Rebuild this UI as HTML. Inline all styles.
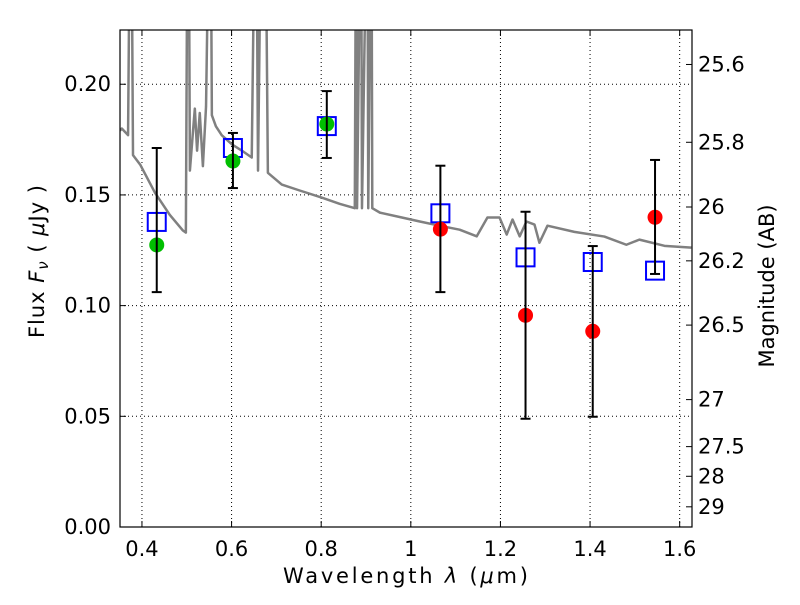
<!DOCTYPE html>
<html><head><meta charset="utf-8"><style>
body{margin:0;background:#fff}
svg text{font-family:"DejaVu Sans","Liberation Sans",sans-serif;fill:#000}
</style></head><body>
<svg id="chart" width="800" height="600" xmlns="http://www.w3.org/2000/svg"></svg>
<script>
const specWl=[0.351,0.355,0.369,0.374,0.376,0.380,0.396,0.429,0.462,0.491,0.498,0.502,0.504,0.507,0.514,0.518,0.523,0.529,0.536,0.543,0.551,0.553,0.556,0.565,0.578,0.601,0.623,0.645,0.653,0.655,0.659,0.667,0.669,0.673,0.675,0.681,0.712,0.752,0.801,0.841,0.875,0.878,0.880,0.889,0.891,0.903,0.905,0.912,0.914,0.931,0.980,1.020,1.064,1.109,1.147,1.171,1.198,1.214,1.227,1.243,1.258,1.276,1.287,1.305,1.365,1.432,1.481,1.510,1.566,1.626];
const specFlux=[0.179,0.180,0.177,0.3,0.3,0.168,0.1637,0.151,0.141,0.134,0.133,0.3,0.3,0.161,0.179,0.189,0.170,0.187,0.163,0.190,0.3,0.3,0.186,0.181,0.177,0.1728,0.170,0.1669,0.3,0.3,0.161,0.3,0.3,0.3,0.3,0.160,0.1547,0.152,0.1488,0.146,0.144,0.3,0.144,0.3,0.144,0.3,0.144,0.3,0.144,0.142,0.1398,0.138,0.1361,0.1343,0.1313,0.1398,0.1398,0.1321,0.1389,0.1313,0.138,0.1366,0.1284,0.1361,0.1333,0.1312,0.1275,0.1298,0.127,0.1262];
const bandWl=[0.433,0.603,0.8125,1.066,1.256,1.406,1.545];
const modelFlux=[0.1378,0.1712,0.1811,0.1417,0.1218,0.1197,0.1158];
const obsFlux=[0.1274,0.1653,0.182,0.1345,0.0956,0.0884,0.1399];
const obsColor=["#00bf00","#00bf00","#00bf00","#ff0000","#ff0000","#ff0000","#ff0000"];
const errLo=[0.1061,0.1531,0.1667,0.1061,0.0489,0.0498,0.1143];
const errHi=[0.1712,0.178,0.1969,0.1632,0.1424,0.1269,0.1658];
const xTicks=[0.4,0.6,0.8,1.0,1.2,1.4,1.6];
const xTickLabels=["0.4","0.6","0.8","1","1.2","1.4","1.6"];
const yTicks=[0,0.05,0.10,0.15,0.20];
const yTickLabels=["0.00","0.05","0.10","0.15","0.20"];
const magTicks=[25.6,25.8,26,26.2,26.5,27,27.5,28,29];
const magLabels=["25.6","25.8","26","26.2","26.5","27","27.5","28","29"];

const L=120,R=692,T=30,B=527;
const x0=0.351,x1=1.6275,y0=0,y1=0.2245;
const X=v=>L+(v-x0)/(x1-x0)*(R-L);
const Y=v=>B-(v-y0)/(y1-y0)*(B-T);
const svg=document.getElementById('chart');
const NS="http://www.w3.org/2000/svg";
function mk(tag,attrs,parent){const e=document.createElementNS(NS,tag);for(const k in attrs)e.setAttribute(k,attrs[k]);(parent||svg).appendChild(e);return e;}
const defs=mk('defs',{});const cp=mk('clipPath',{id:'clip'},defs);mk('rect',{x:L,y:T,width:R-L,height:B-T},cp);

const grid=mk('g',{});


xTicks.forEach(t=>mk('line',{x1:X(t),x2:X(t),y1:T,y2:B,stroke:'#000','stroke-width':1,'stroke-dasharray':'1,3'},grid));
yTicks.forEach(t=>mk('line',{x1:L,x2:R,y1:Y(t),y2:Y(t),stroke:'#000','stroke-width':1,'stroke-dasharray':'1,3'},grid));

const sp=mk('polyline',{points:specWl.map((w,i)=>X(w)+','+Y(specFlux[i])).join(' '),fill:'none',stroke:'#808080','stroke-width':2.5,'clip-path':'url(#clip)','stroke-linejoin':'round'});



bandWl.forEach((w,i)=>{const s=9;const r=mk('rect',{x:X(w)-s,y:Y(modelFlux[i])-s,width:2*s,height:2*s,fill:'none',stroke:'#0000ff','stroke-width':2});

});
bandWl.forEach((w,i)=>{const c=mk('circle',{cx:X(w),cy:Y(obsFlux[i]),r:7.5,fill:obsColor[i]});

});
bandWl.forEach((w,i)=>{const g=mk('g',{stroke:'#000','stroke-width':2});


const x=X(w);mk('line',{x1:x,x2:x,y1:Y(errLo[i]),y2:Y(errHi[i])},g);
mk('line',{x1:x-5,x2:x+5,y1:Y(errLo[i]),y2:Y(errLo[i])},g);
mk('line',{x1:x-5,x2:x+5,y1:Y(errHi[i]),y2:Y(errHi[i])},g);});

const fr=mk('rect',{x:L,y:T,width:R-L,height:B-T,fill:'none',stroke:'#000','stroke-width':1.2});



xTicks.forEach((t,i)=>{mk('line',{x1:X(t),x2:X(t),y1:B,y2:B-6,stroke:'#000'});mk('line',{x1:X(t),x2:X(t),y1:T,y2:T+6,stroke:'#000'});
const tx=mk('text',{x:X(t),y:B+29,'font-size':21,'text-anchor':'middle'});tx.textContent=xTickLabels[i];

});
yTicks.forEach((t,i)=>{mk('line',{x1:L,x2:L+6,y1:Y(t),y2:Y(t),stroke:'#000'});
const tx=mk('text',{x:L-9,y:Y(t)+7,'font-size':21,'text-anchor':'end'});tx.textContent=yTickLabels[i];

});
magTicks.forEach((m,i)=>{const f=Math.pow(10,(23.9-m)/2.5);const y=Y(f);mk('line',{x1:R,x2:R-6,y1:y,y2:y,stroke:'#000'});
const tx=mk('text',{x:R+6,y:y+7,'font-size':21});tx.textContent=magLabels[i];

});
</script>
<svg style="position:absolute;left:0;top:0" width="800" height="600">
<text x="283" y="583" font-size="21" textLength="245" lengthAdjust="spacing" font-family="DejaVu Sans, sans-serif">Wavelength  <tspan font-style="italic">λ</tspan> (<tspan font-style="italic">μ</tspan>m)</text>
<text transform="translate(44,338) rotate(-90)" font-size="21" textLength="153" lengthAdjust="spacing" font-family="DejaVu Sans, sans-serif">Flux  <tspan font-style="italic">F</tspan><tspan font-style="italic" font-size="15" dy="4">ν</tspan><tspan dy="-4">  (  </tspan><tspan font-style="italic">μ</tspan>Jy )</text>
<text transform="translate(774,286) rotate(-90)" font-size="21" text-anchor="middle" font-family="DejaVu Sans, sans-serif">Magnitude (AB)</text>
</svg>
</body></html>
